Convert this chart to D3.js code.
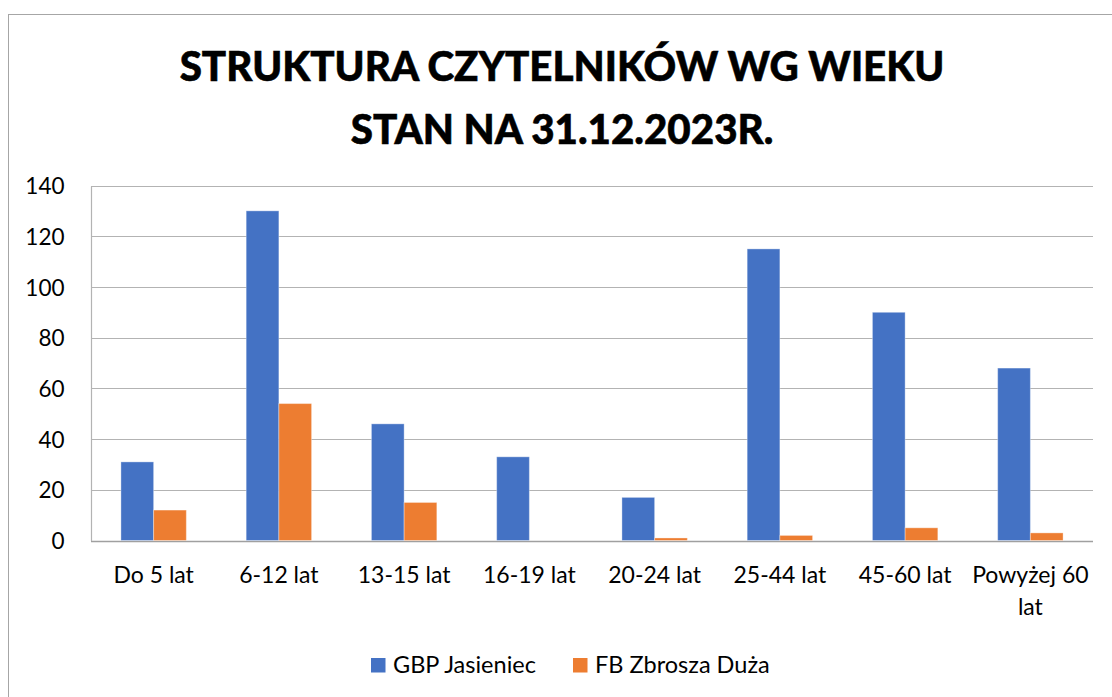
<!DOCTYPE html>
<html>
<head>
<meta charset="utf-8">
<script src="https://cdn.jsdelivr.net/npm/d3@7"></script>
<style>
  html, body { margin: 0; padding: 0; background: #fff; }
  svg { display: block; }
  text { font-family: Lato, "Open Sans", sans-serif; fill: #000; }
</style>
</head>
<body>
<svg id="chart" width="1112" height="697"></svg>
<script>
// Age groups of library readers
const categories = ["Do 5 lat", "6-12 lat", "13-15 lat", "16-19 lat", "20-24 lat", "25-44 lat", "45-60 lat", "Powyżej 60 lat"];
const seriesNames = ["GBP Jasieniec", "FB Zbrosza Duża"];
const gbpJasieniec = [31, 130, 46, 33, 17, 115, 90, 68];
const fbZbrosza = [12, 54, 15, 0, 1, 2, 5, 3];
const yTicks = [0, 20, 40, 60, 80, 100, 120, 140];
const titleLines = ["STRUKTURA CZYTELNIKÓW WG WIEKU", "STAN NA 31.12.2023R."];

const seriesValues = [gbpJasieniec, fbZbrosza];
const colors = ["#4472C4", "#ED7D31"];

const svg = d3.select("#chart");
const W = 1112, H = 697;
const plot = { left: 91, right: 1093, top: 185.5, bottom: 540.5 };

// outer chart frame (runs past the right and bottom edges)
svg.append("rect")
  .attr("x", 8.5).attr("y", 14.5)
  .attr("width", W + 20).attr("height", H + 20)
  .attr("fill", "#fff").attr("stroke", "#a6a6a6").attr("stroke-width", 1);

// title: tall bold caps, condensed horizontally to the set width
const titleSize = 42.5;
const titleCenter = 562;
const title = svg.append("g");
const titleTexts = titleLines.map((t, i) =>
  title.append("text")
    .attr("x", 0).attr("y", 0)
    .attr("text-anchor", "middle")
    .attr("font-weight", 900)
    .attr("font-size", titleSize)
    .attr("stroke", "#000").attr("stroke-width", 0.6)
    .text(t)
);
{
  const w = titleTexts[0].node().getComputedTextLength();
  const sx = 765 / w;
  titleTexts.forEach((t, i) => {
    t.attr("transform", `translate(${titleCenter},${81 + i * 63}) scale(${sx},1)`);
  });
}

const x = d3.scaleBand().domain(categories).range([plot.left, plot.right]).padding(0);
const xs = d3.scaleBand().domain(seriesNames).range([0, x.bandwidth()]).paddingInner(0).paddingOuter(0.915);
const y = d3.scaleLinear().domain([0, 140]).range([plot.bottom, plot.top]);

// gridlines
svg.append("g")
  .selectAll("line")
  .data(yTicks)
  .join("line")
  .attr("x1", plot.left).attr("x2", plot.right)
  .attr("y1", d => Math.round(y(d)) + 0.5).attr("y2", d => Math.round(y(d)) + 0.5)
  .attr("stroke", d => d === 0 ? "#a0a0a0" : "#b3b3b3")
  .attr("stroke-width", d => d === 0 ? 1.5 : 1.2);

// left axis line
svg.append("line")
  .attr("x1", plot.left + 0.5).attr("x2", plot.left + 0.5)
  .attr("y1", Math.round(y(140)) + 0.5).attr("y2", plot.bottom + 0.5)
  .attr("stroke", "#b3b3b3").attr("stroke-width", 1.2);

// y-axis labels
const yAxis = d3.axisLeft(y).tickValues(yTicks).tickSize(0).tickPadding(0);
const yg = svg.append("g").attr("transform", `translate(64.5,0)`).call(yAxis);
yg.select(".domain").remove();
yg.selectAll("text")
  .attr("font-family", "Lato, 'Open Sans', sans-serif")
  .attr("font-size", 22.5)
  .attr("fill", "#000")
  .attr("dy", "0.36em");

// bars
const groups = svg.append("g")
  .selectAll("g")
  .data(categories)
  .join("g")
  .attr("transform", d => `translate(${x(d)},0)`);

groups.selectAll("rect")
  .data((c, i) => seriesNames.map((s, k) => ({ s, v: seriesValues[k][i], k })))
  .join("rect")
  .attr("x", d => xs(d.s))
  .attr("width", xs.bandwidth())
  .attr("y", d => y(d.v))
  .attr("height", d => y(0) - y(d.v))
  .attr("fill", d => colors[d.k])
  .attr("stroke", d => d.v > 0 ? "rgba(255,255,255,0.35)" : "none")
  .attr("stroke-width", 1);

// x-axis labels with wrapping
const labelY = 42.5;
const xAxis = d3.axisBottom(x).tickSize(0).tickPadding(0);
const xg = svg.append("g").attr("transform", `translate(0,${plot.bottom})`).call(xAxis);
xg.select(".domain").remove();
xg.selectAll("text")
  .attr("font-family", "Lato, 'Open Sans', sans-serif")
  .attr("font-size", 23)
  .attr("fill", "#000")
  .attr("y", labelY)
  .attr("dy", 0)
  .each(function () {
    const t = d3.select(this);
    const words = t.text().split(" ");
    const maxW = x.bandwidth() - 4;
    t.text(null);
    let line = [];
    let tspan = t.append("tspan").attr("x", 0).attr("y", labelY);
    let lineNo = 0;
    words.forEach(w => {
      line.push(w);
      tspan.text(line.join(" "));
      if (tspan.node().getComputedTextLength() > maxW && line.length > 1) {
        line.pop();
        tspan.text(line.join(" "));
        line = [w];
        lineNo++;
        tspan = t.append("tspan").attr("x", 0).attr("y", labelY + lineNo * 32).text(w);
      }
    });
  });

// legend
const legend = svg.append("g").attr("transform", "translate(371,658)");
const legendX = [0, 202];
seriesNames.forEach((s, i) => {
  const g = legend.append("g").attr("transform", `translate(${legendX[i]},0)`);
  g.append("rect").attr("width", 14.5).attr("height", 14.5).attr("fill", colors[i]);
  g.append("text").attr("x", 22).attr("y", 14.5)
    .attr("font-size", 23.5)
    .text(s);
});
</script>
</body>
</html>
